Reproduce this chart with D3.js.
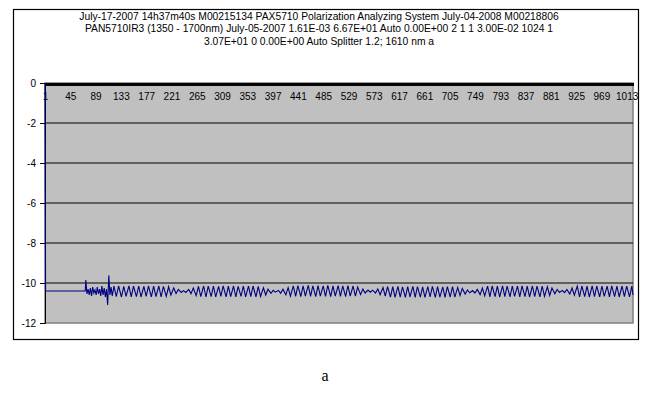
<!DOCTYPE html>
<html><head><meta charset="utf-8">
<script src="https://cdnjs.cloudflare.com/ajax/libs/d3/7.8.5/d3.min.js"></script>
<style>body{margin:0;background:#fff}svg{display:block}</style>
</head><body><div id="chart"></div>
<script>
const titleLines = [
  "July-17-2007 14h37m40s M00215134 PAX5710 Polarization Analyzing System July-04-2008 M00218806",
  "PAN5710IR3 (1350 - 1700nm) July-05-2007 1.61E-03 6.67E+01 Auto 0.00E+00 2 1 1 3.00E-02 1024 1",
  "3.07E+01 0 0.00E+00 Auto Splitter 1.2; 1610 nm  a"
];
const caption = "a";
const categoryCount = 1024;
const xTickLabels = [1,45,89,133,177,221,265,309,353,397,441,485,529,573,617,661,705,749,793,837,881,925,969,1013];
const yTickValues = [0,-2,-4,-6,-8,-10,-12];
const gridValues = [-2,-4,-6,-8,-10];

const seriesCategories = [
  1,2,71,72,74,76,78,80,82,84,86,88,90,92,94,96,98,100,102,104,106,108,110,112,114,116,118,
  121,125,129,134,138,142,147,151,155,160,164,168,
  173,177,181,186,190,194,199,203,207,212,216,220,
  225,229,233,238,242,246,251,255,259,264,268,272,
  277,281,285,290,294,298,303,307,311,316,320,324,
  329,333,337,342,346,350,355,359,363,368,372,376,
  381,385,389,394,398,402,407,411,415,420,424,428,
  433,437,441,446,450,454,459,463,467,472,476,480,
  485,489,493,498,502,506,511,515,519,524,528,532,
  537,541,545,550,554,558,563,567,571,576,580,584,
  589,593,597,602,606,610,615,619,623,628,632,636,
  641,645,649,654,658,662,667,671,675,680,684,688,
  693,697,701,706,710,714,719,723,727,732,736,740,
  745,749,753,758,762,766,771,775,779,784,788,792,
  797,801,805,810,814,818,823,827,831,836,840,844,
  849,853,857,862,866,870,875,879,883,888,892,896,
  901,905,909,914,918,922,927,931,935,940,944,948,
  953,957,961,966,970,974,979,983,987,992,996,1000,
  1005,1009,1013,1018,1022,1024
];
const seriesValues = [
  0,-10.4,-10.4,-9.85,-10.55,-10.3,-10.6,-10.25,-10.65,-10.2,-10.5,-10.35,-10.6,-10.2,-10.55,-10.3,-10.65,-10.15,-10.6,-10.25,-10.7,-10.3,-11.1,-9.62,-10.6,-10.2,-10.65,
  -10.16,-10.68,-10.15,-10.70,-10.17,-10.67,-10.14,-10.69,-10.16,-10.68,-10.15,-10.70,
  -10.17,-10.67,-10.15,-10.69,-10.16,-10.68,-10.15,-10.70,-10.17,-10.67,-10.19,-10.60,
  -10.25,-10.52,-10.32,-10.47,-10.38,-10.47,-10.32,-10.53,-10.25,-10.63,-10.17,-10.68,
  -10.15,-10.70,-10.16,-10.68,-10.15,-10.69,-10.17,-10.67,-10.14,-10.69,-10.16,-10.68,
  -10.15,-10.70,-10.17,-10.67,-10.15,-10.69,-10.16,-10.68,-10.15,-10.69,-10.17,-10.67,
  -10.24,-10.60,-10.31,-10.52,-10.37,-10.46,-10.37,-10.51,-10.31,-10.59,-10.23,-10.66,
  -10.14,-10.67,-10.13,-10.68,-10.14,-10.66,-10.12,-10.67,-10.14,-10.68,-10.13,-10.66,
  -10.14,-10.67,-10.12,-10.68,-10.14,-10.66,-10.13,-10.67,-10.14,-10.68,-10.13,-10.66,
  -10.15,-10.66,-10.20,-10.58,-10.30,-10.50,-10.35,-10.46,-10.36,-10.50,-10.30,-10.59,
  -10.23,-10.66,-10.18,-10.71,-10.18,-10.72,-10.17,-10.71,-10.19,-10.72,-10.18,-10.70,
  -10.17,-10.72,-10.18,-10.71,-10.19,-10.72,-10.18,-10.70,-10.17,-10.72,-10.18,-10.71,
  -10.19,-10.72,-10.18,-10.70,-10.18,-10.71,-10.22,-10.63,-10.27,-10.55,-10.35,-10.49,
  -10.38,-10.50,-10.32,-10.58,-10.25,-10.64,-10.16,-10.69,-10.15,-10.68,-10.16,-10.70,
  -10.14,-10.68,-10.16,-10.69,-10.15,-10.67,-10.16,-10.69,-10.14,-10.68,-10.16,-10.70,
  -10.15,-10.68,-10.16,-10.69,-10.15,-10.67,-10.19,-10.62,-10.25,-10.54,-10.32,-10.47,
  -10.37,-10.48,-10.32,-10.55,-10.25,-10.61,-10.16,-10.69,-10.15,-10.68,-10.16,-10.70,
  -10.14,-10.68,-10.16,-10.69,-10.15,-10.67,-10.16,-10.69,-10.14,-10.68,-10.16,-10.70,
  -10.15,-10.68,-10.16,-10.69,-10.15,-10.60
];

const W = 649, H = 400;
const plot = {left: 45, top: 83, right: 633, bottom: 323};
const font = "'Liberation Sans', Arial, sans-serif";

const svg = d3.select("#chart").append("svg").attr("width", W).attr("height", H);
svg.append("rect").attr("width", W).attr("height", H).attr("fill", "#fff");

// outer chart border
svg.append("rect").attr("x", 13.5).attr("y", 9.5).attr("width", 625).attr("height", 330)
  .attr("fill", "none").attr("stroke", "#000").attr("stroke-width", 1.2);

// title
svg.append("g").selectAll("text").data(titleLines).join("text")
  .attr("x", 319).attr("y", (d, i) => 19.5 + i * 12.5)
  .attr("text-anchor", "middle").attr("font-family", font).attr("font-size", 10.3)
  .attr("fill", "#000").text(d => d);

const x = d3.scaleLinear().domain([1, categoryCount]).range([plot.left, plot.right]);
const y = d3.scaleLinear().domain([-12, 0]).range([plot.bottom, plot.top]);

// plot area
svg.append("rect").attr("x", plot.left).attr("y", plot.top)
  .attr("width", plot.right - plot.left).attr("height", plot.bottom - plot.top)
  .attr("fill", "#c0c0c0").attr("stroke", "#808080").attr("stroke-width", 1.5);

// gridlines
svg.append("g").selectAll("line").data(gridValues).join("line")
  .attr("x1", plot.left).attr("x2", plot.right)
  .attr("y1", d => y(d)).attr("y2", d => y(d))
  .attr("stroke", "#000").attr("stroke-width", 1);

// y axis
const yAxis = svg.append("g").attr("transform", `translate(${plot.left},0)`)
  .call(d3.axisLeft(y).tickValues(yTickValues).tickSize(5).tickPadding(4).tickFormat(d => String(d)));
yAxis.select(".domain").attr("stroke", "#000");
yAxis.selectAll("text").attr("font-family", font).attr("font-size", 10).attr("fill", "#000");

// x axis: dense category ticks
const allCats = d3.range(1, categoryCount + 1);
const xTicks = svg.append("g").attr("transform", `translate(0,${plot.top})`)
  .call(d3.axisBottom(x).tickValues(allCats).tickSize(3).tickFormat(""));
xTicks.select(".domain").attr("stroke", "#000");
xTicks.selectAll(".tick line").attr("stroke", "#000").attr("stroke-width", 1);

// x axis labels
const xLab = svg.append("g").attr("transform", `translate(0,${plot.top})`)
  .call(d3.axisBottom(x).tickValues(xTickLabels).tickSize(0).tickPadding(10).tickFormat(d => String(d)));
xLab.select(".domain").remove();
xLab.selectAll("text").attr("font-family", font).attr("font-size", 10).attr("fill", "#000");

// series
const pts = d3.zip(seriesCategories, seriesValues);
const line = d3.line().x(d => x(d[0])).y(d => y(d[1]));
svg.append("path").datum(pts).attr("d", line)
  .attr("fill", "none").attr("stroke", "#000080").attr("stroke-width", 1.1)
  .attr("stroke-linejoin", "miter");

// caption
svg.append("text").attr("x", 325).attr("y", 381).attr("text-anchor", "middle")
  .attr("font-family", "'Liberation Serif', 'Times New Roman', serif").attr("font-size", 16)
  .attr("fill", "#000").text(caption);
</script></body></html>
